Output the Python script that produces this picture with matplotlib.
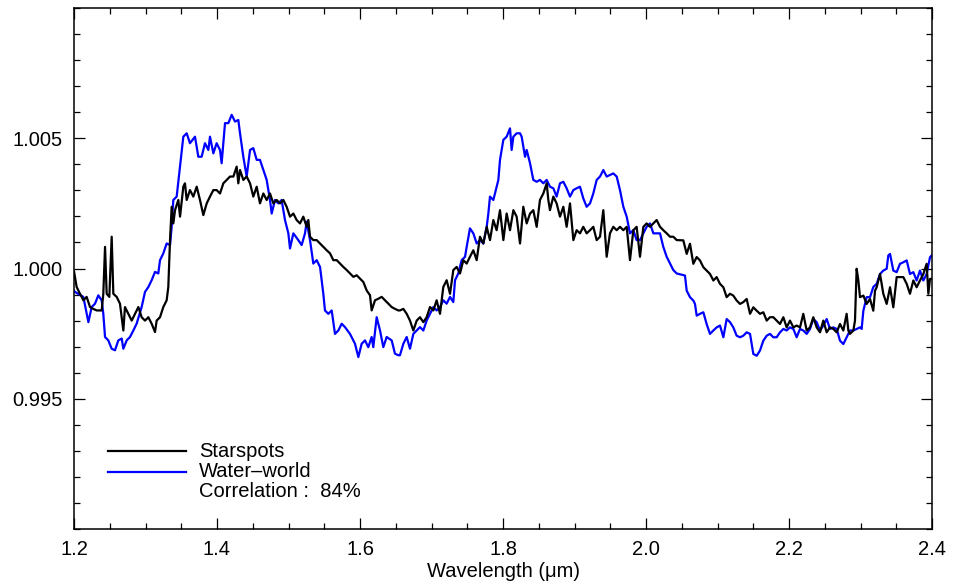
import matplotlib
matplotlib.use("Agg")
import matplotlib.pyplot as plt
from matplotlib.ticker import MultipleLocator, FixedLocator, FormatStrFormatter
from matplotlib.lines import Line2D

plt.rcParams['font.family'] = ['Liberation Sans', 'DejaVu Sans']

# Starspot model spectrum (normalized flux vs wavelength in micron)
wl_star = [
    1.2000, 1.2037, 1.2084, 1.2131, 1.2177, 1.2224, 1.2270, 1.2317, 1.2387, 1.2410,
    1.2434, 1.2457, 1.2494, 1.2527, 1.2550, 1.2597, 1.2643, 1.2690, 1.2713, 1.2760,
    1.2807, 1.2853, 1.2900, 1.2946, 1.2993, 1.3040, 1.3086, 1.3133, 1.3156, 1.3203,
    1.3249, 1.3296, 1.3319, 1.3343, 1.3366, 1.3389, 1.3413, 1.3459, 1.3483, 1.3529,
    1.3552, 1.3576, 1.3622, 1.3669, 1.3716, 1.3762, 1.3809, 1.3856, 1.3902, 1.3949,
    1.3995, 1.4042, 1.4089, 1.4135, 1.4182, 1.4229, 1.4275, 1.4298, 1.4322, 1.4368,
    1.4415, 1.4462, 1.4508, 1.4555, 1.4601, 1.4648, 1.4695, 1.4741, 1.4788, 1.4834,
    1.4881, 1.4928, 1.4974, 1.5021, 1.5068, 1.5114, 1.5161, 1.5207, 1.5254, 1.5277,
    1.5301, 1.5347, 1.5394, 1.5441, 1.5487, 1.5534, 1.5581, 1.5627, 1.5674, 1.5721,
    1.5767, 1.5814, 1.5860, 1.5907, 1.5954, 1.6000, 1.6047, 1.6093, 1.6140, 1.6163,
    1.6210, 1.6257, 1.6303, 1.6350, 1.6396, 1.6443, 1.6489, 1.6536, 1.6559, 1.6606,
    1.6653, 1.6699, 1.6746, 1.6793, 1.6839, 1.6886, 1.6932, 1.6979, 1.7026, 1.7072,
    1.7119, 1.7165, 1.7212, 1.7259, 1.7305, 1.7352, 1.7399, 1.7445, 1.7492, 1.7538,
    1.7585, 1.7632, 1.7678, 1.7725, 1.7772, 1.7818, 1.7865, 1.7911, 1.7958, 1.8005,
    1.8051, 1.8098, 1.8145, 1.8191, 1.8238, 1.8284, 1.8331, 1.8378, 1.8424, 1.8471,
    1.8517, 1.8564, 1.8611, 1.8634, 1.8657, 1.8704, 1.8750, 1.8797, 1.8844, 1.8890,
    1.8937, 1.8984, 1.9030, 1.9077, 1.9123, 1.9170, 1.9217, 1.9263, 1.9310, 1.9357,
    1.9403, 1.9450, 1.9496, 1.9543, 1.9590, 1.9636, 1.9683, 1.9730, 1.9776, 1.9823,
    1.9869, 1.9916, 1.9963, 2.0009, 2.0056, 2.0103, 2.0149, 2.0196, 2.0242, 2.0289,
    2.0336, 2.0382, 2.0429, 2.0522, 2.0569, 2.0615, 2.0662, 2.0709, 2.0755, 2.0802,
    2.0848, 2.0895, 2.0942, 2.0988, 2.1035, 2.1082, 2.1128, 2.1175, 2.1221, 2.1268,
    2.1315, 2.1361, 2.1408, 2.1455, 2.1501, 2.1548, 2.1594, 2.1641, 2.1688, 2.1734,
    2.1781, 2.1827, 2.1874, 2.1921, 2.1967, 2.2014, 2.2061, 2.2107, 2.2154, 2.2200,
    2.2247, 2.2294, 2.2340, 2.2387, 2.2434, 2.2480, 2.2527, 2.2573, 2.2620, 2.2667,
    2.2713, 2.2760, 2.2806, 2.2830, 2.2853, 2.2900, 2.2923, 2.2946, 2.2970, 2.2993,
    2.3040, 2.3086, 2.3133, 2.3179, 2.3203, 2.3226, 2.3273, 2.3319, 2.3366, 2.3413,
    2.3459, 2.3506, 2.3552, 2.3599, 2.3646, 2.3692, 2.3739, 2.3785, 2.3832, 2.3879,
    2.3925, 2.3949, 2.3972, 2.3995,
]
flux_star = [
    0.99990, 0.99929, 0.99903, 0.99878, 0.99891, 0.99852, 0.99845, 0.99839, 0.99839, 0.99903,
    1.00083, 0.99903, 0.99891, 1.00122, 0.99903, 0.99891, 0.99865, 0.99762, 0.99852, 0.99826,
    0.99800, 0.99826, 0.99852, 0.99813, 0.99800, 0.99813, 0.99788, 0.99756, 0.99800, 0.99813,
    0.99852, 0.99878, 0.99929, 1.00109, 1.00237, 1.00173, 1.00224, 1.00263, 1.00199, 1.00314,
    1.00327, 1.00263, 1.00301, 1.00276, 1.00314, 1.00263, 1.00205, 1.00250, 1.00276, 1.00301,
    1.00301, 1.00288, 1.00327, 1.00340, 1.00353, 1.00353, 1.00391, 1.00327, 1.00378, 1.00340,
    1.00353, 1.00327, 1.00276, 1.00314, 1.00250, 1.00288, 1.00263, 1.00288, 1.00250, 1.00263,
    1.00250, 1.00263, 1.00237, 1.00199, 1.00211, 1.00186, 1.00173, 1.00199, 1.00160, 1.00186,
    1.00122, 1.00109, 1.00109, 1.00096, 1.00083, 1.00070, 1.00058, 1.00032, 1.00032, 1.00019,
    1.00006, 0.99994, 0.99981, 0.99968, 0.99974, 0.99961, 0.99948, 0.99916, 0.99897, 0.99839,
    0.99878, 0.99884, 0.99891, 0.99878, 0.99865, 0.99852, 0.99845, 0.99839, 0.99839, 0.99845,
    0.99826, 0.99800, 0.99762, 0.99800, 0.99813, 0.99794, 0.99813, 0.99852, 0.99839, 0.99878,
    0.99826, 0.99929, 0.99955, 0.99903, 0.99994, 1.00006, 0.99981, 1.00032, 1.00019, 1.00045,
    1.00070, 1.00032, 1.00122, 1.00096, 1.00160, 1.00109, 1.00186, 1.00147, 1.00224, 1.00109,
    1.00211, 1.00147, 1.00224, 1.00199, 1.00096, 1.00237, 1.00173, 1.00211, 1.00224, 1.00160,
    1.00263, 1.00288, 1.00327, 1.00263, 1.00224, 1.00276, 1.00250, 1.00199, 1.00237, 1.00160,
    1.00250, 1.00109, 1.00147, 1.00135, 1.00160, 1.00135, 1.00147, 1.00160, 1.00109, 1.00122,
    1.00224, 1.00045, 1.00135, 1.00160, 1.00147, 1.00160, 1.00147, 1.00160, 1.00032, 1.00147,
    1.00160, 1.00045, 1.00160, 1.00173, 1.00160, 1.00173, 1.00186, 1.00160, 1.00147, 1.00135,
    1.00122, 1.00122, 1.00109, 1.00108, 1.00056, 1.00095, 1.00018, 1.00044, 1.00031, 1.00005,
    0.99992, 0.99979, 0.99954, 0.99967, 0.99941, 0.99928, 0.99890, 0.99903, 0.99896, 0.99877,
    0.99864, 0.99871, 0.99883, 0.99826, 0.99851, 0.99838, 0.99826, 0.99832, 0.99800, 0.99813,
    0.99813, 0.99800, 0.99787, 0.99813, 0.99774, 0.99800, 0.99774, 0.99781, 0.99774, 0.99826,
    0.99762, 0.99774, 0.99813, 0.99774, 0.99755, 0.99800, 0.99755, 0.99774, 0.99768, 0.99755,
    0.99787, 0.99762, 0.99826, 0.99762, 0.99749, 0.99762, 0.99800, 0.99999, 0.99954, 0.99890,
    0.99896, 0.99864, 0.99883, 0.99838, 0.99915, 0.99928, 0.99979, 0.99903, 0.99864, 0.99928,
    0.99851, 0.99967, 0.99967, 0.99967, 0.99941, 0.99903, 0.99954, 0.99928, 0.99954, 0.99979,
    1.00018, 0.99903, 0.99960, 0.99960,
]

# Water-world model spectrum
wl_water = [
    1.2000, 1.2014, 1.2131, 1.2201, 1.2247, 1.2294, 1.2340, 1.2387, 1.2410, 1.2434,
    1.2480, 1.2527, 1.2573, 1.2620, 1.2667, 1.2690, 1.2737, 1.2783, 1.2830, 1.2876,
    1.2946, 1.2993, 1.3040, 1.3086, 1.3133, 1.3179, 1.3203, 1.3249, 1.3296, 1.3343,
    1.3366, 1.3389, 1.3436, 1.3483, 1.3529, 1.3576, 1.3622, 1.3692, 1.3739, 1.3785,
    1.3832, 1.3879, 1.3902, 1.3949, 1.3995, 1.4042, 1.4065, 1.4112, 1.4159, 1.4205,
    1.4252, 1.4298, 1.4322, 1.4368, 1.4415, 1.4462, 1.4508, 1.4555, 1.4601, 1.4648,
    1.4695, 1.4741, 1.4765, 1.4811, 1.4858, 1.4904, 1.4951, 1.4998, 1.5021, 1.5068,
    1.5137, 1.5184, 1.5231, 1.5254, 1.5301, 1.5347, 1.5394, 1.5441, 1.5487, 1.5510,
    1.5557, 1.5604, 1.5650, 1.5697, 1.5744, 1.5790, 1.5860, 1.5930, 1.5977, 1.6023,
    1.6070, 1.6116, 1.6163, 1.6186, 1.6233, 1.6280, 1.6326, 1.6373, 1.6443, 1.6489,
    1.6536, 1.6559, 1.6606, 1.6653, 1.6699, 1.6746, 1.6793, 1.6839, 1.6886, 1.6932,
    1.6979, 1.7026, 1.7072, 1.7119, 1.7165, 1.7212, 1.7259, 1.7305, 1.7329, 1.7375,
    1.7422, 1.7469, 1.7492, 1.7538, 1.7585, 1.7632, 1.7678, 1.7725, 1.7772, 1.7795,
    1.7818, 1.7865, 1.7911, 1.7935, 1.7958, 1.8005, 1.8051, 1.8098, 1.8121, 1.8145,
    1.8191, 1.8238, 1.8261, 1.8284, 1.8308, 1.8331, 1.8378, 1.8424, 1.8471, 1.8517,
    1.8564, 1.8611, 1.8657, 1.8704, 1.8750, 1.8797, 1.8844, 1.8890, 1.8937, 1.8984,
    1.9030, 1.9077, 1.9123, 1.9170, 1.9217, 1.9263, 1.9310, 1.9357, 1.9403, 1.9450,
    1.9496, 1.9543, 1.9590, 1.9636, 1.9683, 1.9730, 1.9776, 1.9823, 1.9869, 1.9916,
    1.9963, 2.0009, 2.0056, 2.0103, 2.0149, 2.0196, 2.0242, 2.0289, 2.0336, 2.0382,
    2.0429, 2.0545, 2.0569, 2.0615, 2.0662, 2.0685, 2.0709, 2.0755, 2.0802, 2.0848,
    2.0895, 2.0942, 2.0988, 2.1035, 2.1082, 2.1128, 2.1175, 2.1221, 2.1268, 2.1315,
    2.1361, 2.1408, 2.1455, 2.1501, 2.1548, 2.1594, 2.1641, 2.1688, 2.1734, 2.1781,
    2.1827, 2.1874, 2.1921, 2.1967, 2.2014, 2.2061, 2.2107, 2.2154, 2.2200, 2.2247,
    2.2294, 2.2340, 2.2387, 2.2434, 2.2480, 2.2527, 2.2573, 2.2620, 2.2667, 2.2713,
    2.2760, 2.2806, 2.2853, 2.2900, 2.2946, 2.2993, 2.3016, 2.3040, 2.3086, 2.3133,
    2.3179, 2.3226, 2.3273, 2.3319, 2.3366, 2.3389, 2.3413, 2.3459, 2.3506, 2.3552,
    2.3599, 2.3646, 2.3692, 2.3739, 2.3785, 2.3832, 2.3879, 2.3925, 2.3972, 2.3995,
]
flux_water = [
    0.99915, 0.99910, 0.99891, 0.99794, 0.99852, 0.99865, 0.99897, 0.99878, 0.99826, 0.99737,
    0.99724, 0.99692, 0.99686, 0.99724, 0.99731, 0.99692, 0.99724, 0.99737, 0.99762, 0.99788,
    0.99852, 0.99910, 0.99929, 0.99955, 0.99987, 0.99981, 1.00032, 1.00058, 1.00096, 1.00090,
    1.00160, 1.00263, 1.00276, 1.00391, 1.00506, 1.00519, 1.00481, 1.00506, 1.00429, 1.00429,
    1.00481, 1.00455, 1.00506, 1.00442, 1.00481, 1.00455, 1.00404, 1.00558, 1.00558, 1.00590,
    1.00564, 1.00570, 1.00519, 1.00429, 1.00353, 1.00455, 1.00462, 1.00417, 1.00417, 1.00378,
    1.00340, 1.00263, 1.00211, 1.00263, 1.00250, 1.00263, 1.00186, 1.00135, 1.00077, 1.00135,
    1.00109, 1.00090, 1.00135, 1.00180, 1.00109, 1.00019, 1.00032, 1.00006, 0.99903, 0.99839,
    0.99826, 0.99839, 0.99749, 0.99762, 0.99788, 0.99775, 0.99749, 0.99711, 0.99660, 0.99711,
    0.99724, 0.99698, 0.99737, 0.99698, 0.99813, 0.99762, 0.99698, 0.99737, 0.99724, 0.99673,
    0.99667, 0.99667, 0.99711, 0.99737, 0.99692, 0.99749, 0.99762, 0.99775, 0.99762, 0.99800,
    0.99826, 0.99852, 0.99839, 0.99852, 0.99878, 0.99865, 0.99891, 0.99871, 0.99955, 0.99981,
    1.00032, 1.00045, 1.00083, 1.00154, 1.00135, 1.00096, 1.00109, 1.00096, 1.00160, 1.00211,
    1.00276, 1.00263, 1.00314, 1.00340, 1.00417, 1.00494, 1.00506, 1.00538, 1.00455, 1.00506,
    1.00519, 1.00519, 1.00506, 1.00468, 1.00429, 1.00455, 1.00404, 1.00340, 1.00333, 1.00340,
    1.00327, 1.00340, 1.00314, 1.00308, 1.00276, 1.00327, 1.00333, 1.00308, 1.00276, 1.00301,
    1.00308, 1.00314, 1.00269, 1.00237, 1.00250, 1.00288, 1.00340, 1.00353, 1.00378, 1.00353,
    1.00359, 1.00365, 1.00353, 1.00301, 1.00237, 1.00199, 1.00135, 1.00147, 1.00109, 1.00109,
    1.00135, 1.00160, 1.00173, 1.00135, 1.00135, 1.00135, 1.00083, 1.00045, 1.00019, 0.99994,
    0.99981, 0.99973, 0.99915, 0.99890, 0.99877, 0.99864, 0.99819, 0.99826, 0.99832, 0.99787,
    0.99749, 0.99762, 0.99774, 0.99781, 0.99736, 0.99806, 0.99794, 0.99774, 0.99742, 0.99736,
    0.99742, 0.99755, 0.99749, 0.99672, 0.99665, 0.99685, 0.99723, 0.99742, 0.99749, 0.99736,
    0.99736, 0.99755, 0.99768, 0.99762, 0.99774, 0.99768, 0.99736, 0.99768, 0.99762, 0.99749,
    0.99768, 0.99806, 0.99794, 0.99762, 0.99781, 0.99806, 0.99768, 0.99774, 0.99768, 0.99723,
    0.99710, 0.99736, 0.99762, 0.99762, 0.99768, 0.99774, 0.99768, 0.99838, 0.99890, 0.99890,
    0.99929, 0.99941, 0.99979, 0.99992, 0.99999, 1.00050, 1.00056, 0.99992, 0.99986, 1.00018,
    1.00024, 1.00031, 0.99979, 0.99986, 0.99954, 0.99992, 0.99954, 0.99979, 1.00043, 1.00050,
]

series_names = ["Starspots", "Water\u2013world"]
series_colors = ["black", "#0000ff"]
correlation_text = "Correlation :  84%"

x_major = [1.2, 1.4, 1.6, 1.8, 2.0, 2.2, 2.4]
y_major = [0.995, 1.000, 1.005]

fig = plt.figure(figsize=(9.63, 5.84), dpi=100)
ax = fig.add_axes([74 / 963, 1 - 529 / 584, (932 - 74) / 963, (529 - 8) / 584])

ax.plot(wl_star, flux_star, color=series_colors[0], lw=1.6, zorder=3)
ax.plot(wl_water, flux_water, color=series_colors[1], lw=1.6, zorder=2)

ax.set_xlim(1.2, 2.4)
ax.set_ylim(0.990, 1.010)

ax.xaxis.set_major_locator(FixedLocator(x_major))
ax.xaxis.set_minor_locator(MultipleLocator(0.05))
ax.xaxis.set_major_formatter(FormatStrFormatter('%.1f'))
ax.yaxis.set_major_locator(FixedLocator(y_major))
ax.yaxis.set_minor_locator(MultipleLocator(0.001))
ax.yaxis.set_major_formatter(FormatStrFormatter('%.3f'))

ax.tick_params(which='both', direction='in', top=True, right=True,
               labelsize=14.5, width=0.9, colors='black')
ax.tick_params(which='major', length=8, pad=8)
ax.tick_params(which='minor', length=4)
for sp in ax.spines.values():
    sp.set_linewidth(1.1)

ax.set_xlabel("Wavelength (\u03bcm)", fontsize=14.5, labelpad=2)
fig.text(3 / 963, 1 - 272 / 584, r"Normalized $F_p$", rotation=90,
         ha='right', va='center', fontsize=14.5)

# Key drawn in axes coordinates
leg_x0, leg_x1, txt_x = 0.040, 0.130, 0.146
rows = [0.149, 0.110, 0.072]
for name, col, yy in zip(series_names, series_colors, rows[:2]):
    ax.add_line(Line2D([leg_x0, leg_x1], [yy, yy], transform=ax.transAxes,
                       color=col, lw=1.6))
    ax.text(txt_x, yy, name, transform=ax.transAxes, fontsize=14.5,
            va='center', ha='left')
ax.text(txt_x, rows[2], correlation_text, transform=ax.transAxes,
        fontsize=14.5, va='center', ha='left')

fig.savefig("out.png", dpi=100)
